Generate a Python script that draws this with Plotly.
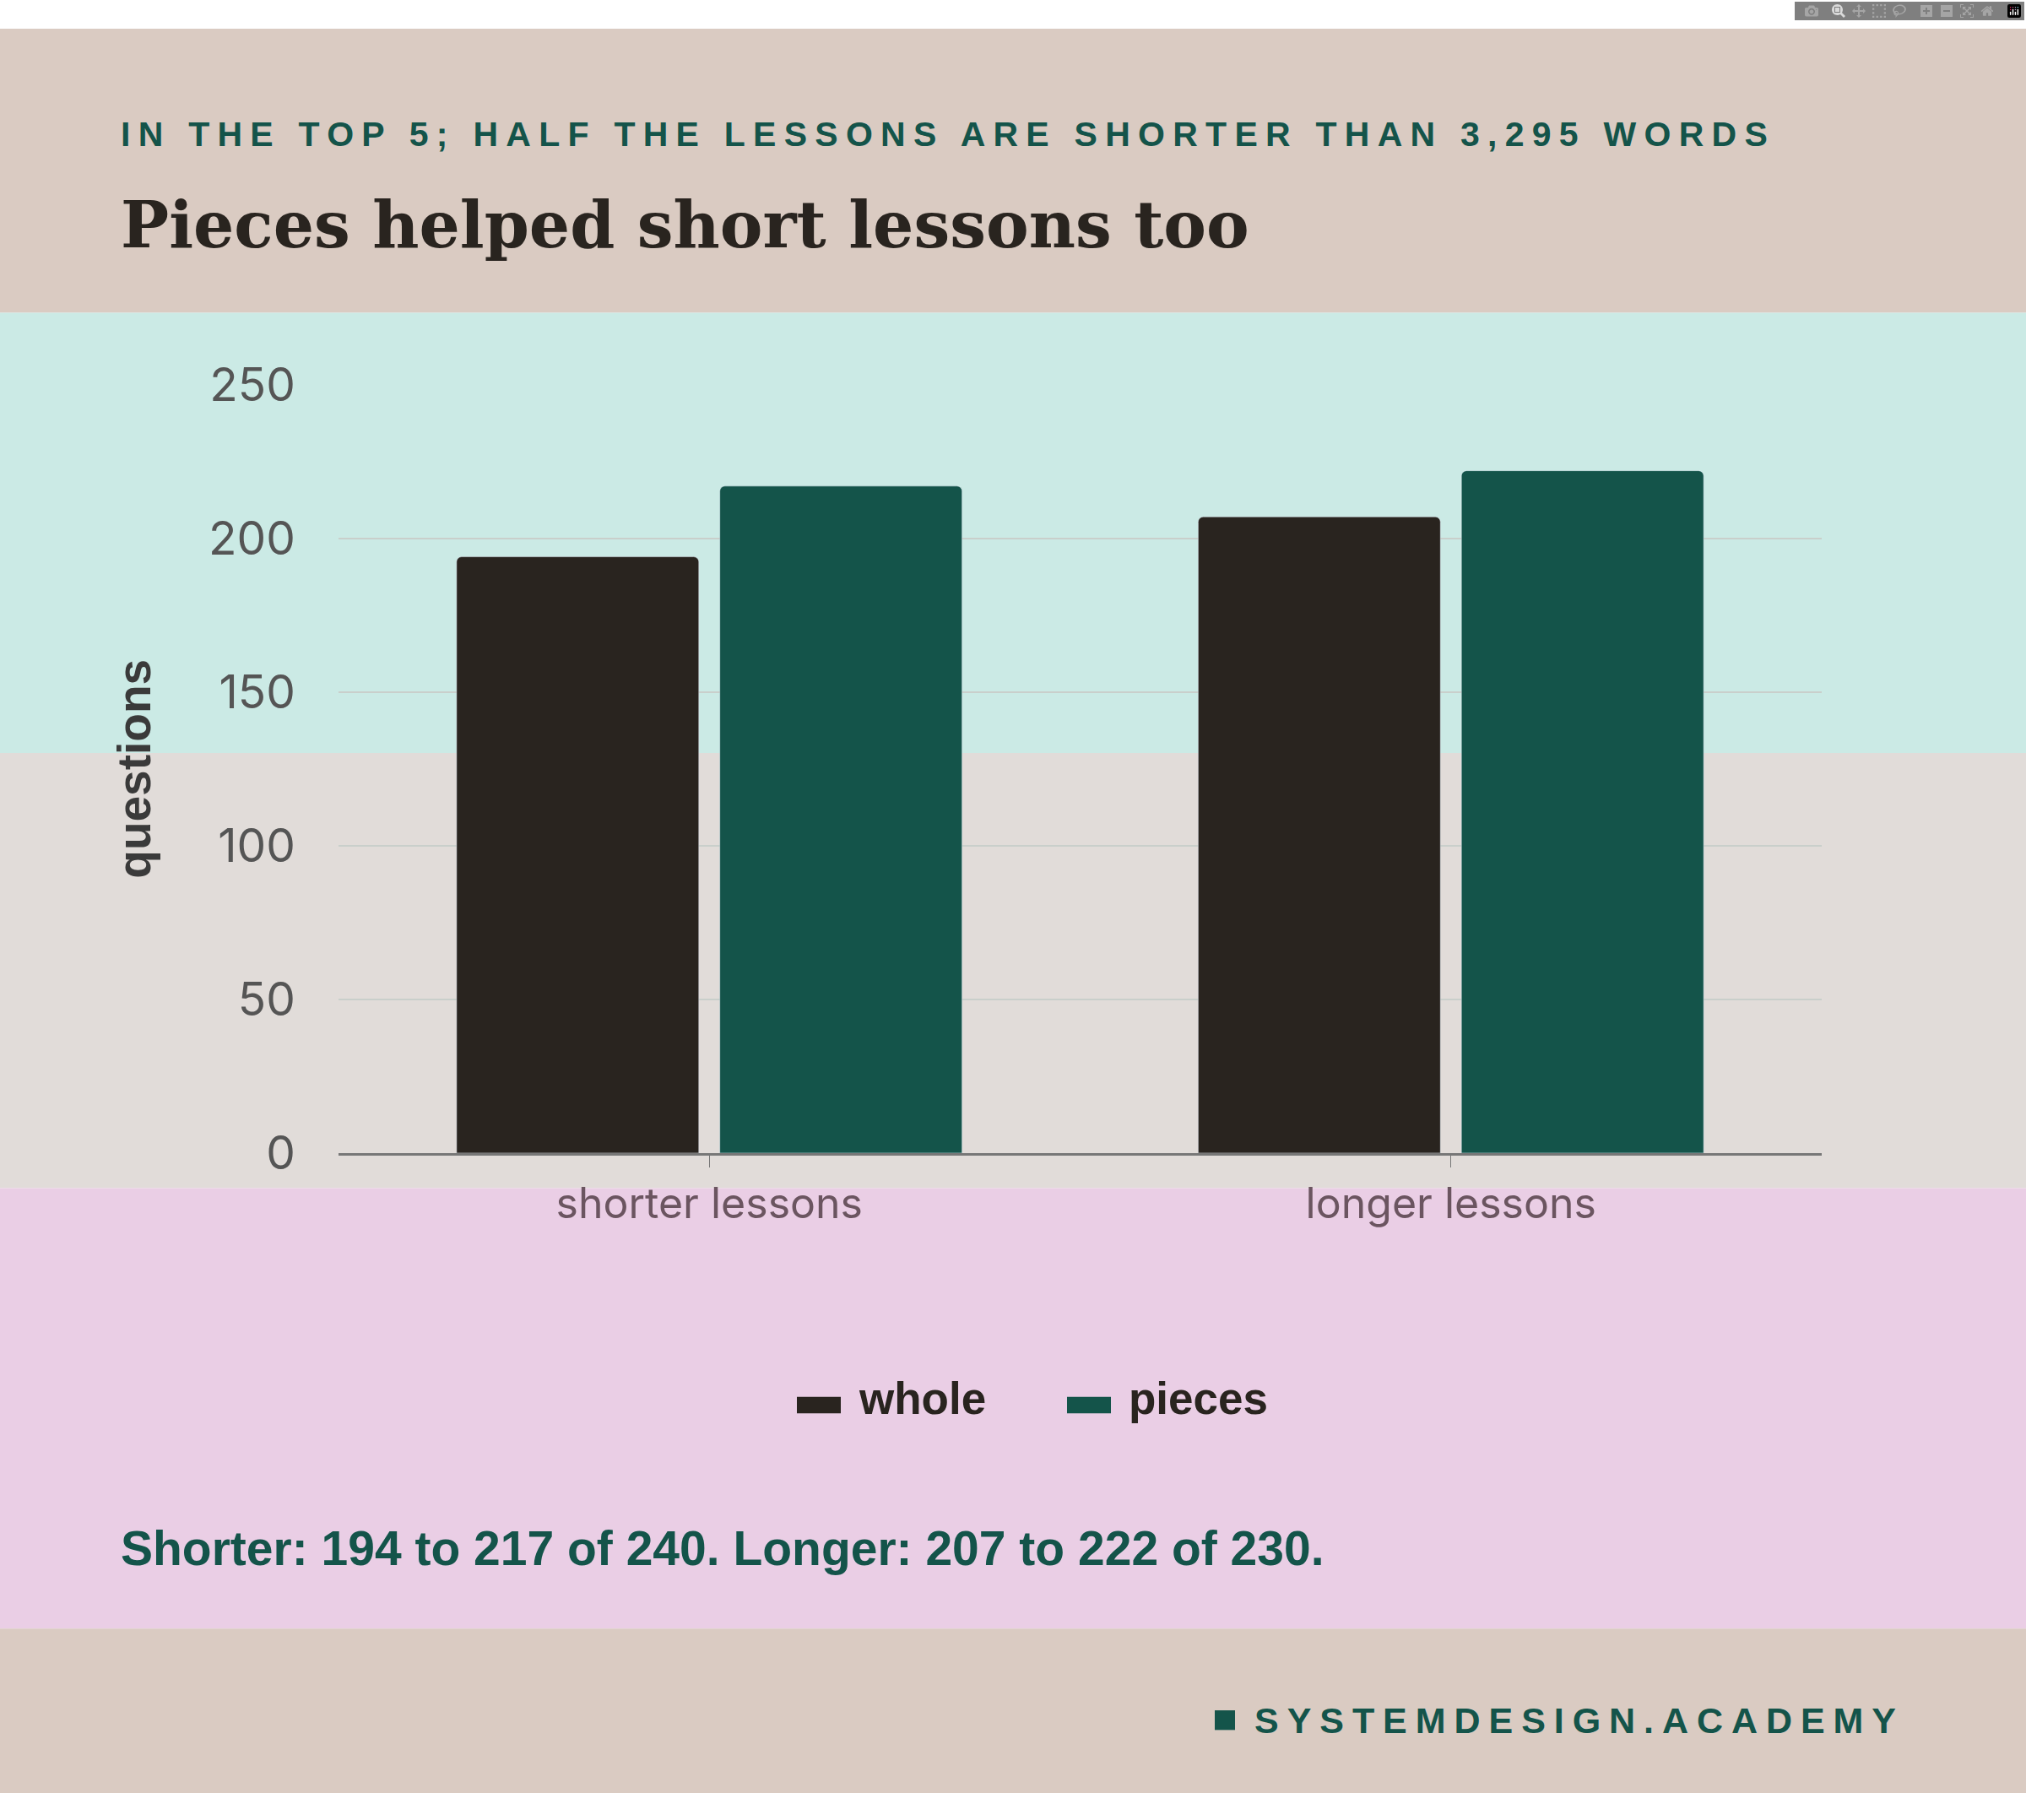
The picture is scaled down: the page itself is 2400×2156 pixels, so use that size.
import plotly.graph_objects as go

# chart data
categories = ["shorter lessons", "longer lessons"]
whole = [194, 207]
pieces = [217, 222]
series_names = ["whole", "pieces"]

W, H = 2400, 2156
dark = "#29241F"
green = "#14544A"

fig = go.Figure()
fig.add_bar(x=categories, y=whole, name=series_names[0], marker=dict(color=dark, cornerradius=6))
fig.add_bar(x=categories, y=pieces, name=series_names[1], marker=dict(color=green, cornerradius=6))

#background bands (pixel rows converted to paper coords)
def py(px):
    return 1 - px / H

bands = [(0, 347, "#DACBC2"), (347, 885, "#CBEAE5"), (885, 1417, "#E1DCD9"),
         (1417, 1955, "#EACEE5"), (1955, H, "#DACBC2")]
for top, bot, col in bands:
    fig.add_shape(type="rect", xref="paper", yref="paper", x0=0, x1=1, y0=py(bot), y1=py(top),
                  fillcolor=col, line_width=0, layer="below")

#custom legend (swatch + label)
legend_items = [(944, 1015, dark, series_names[0]), (1264, 1335, green, series_names[1])]
for sx, tx, col, name in legend_items:
    fig.add_shape(type="rect", xref="paper", yref="paper", x0=sx / W, x1=(sx + 52) / W,
                  y0=py(1692), y1=py(1672), fillcolor=col, line_width=0)
    fig.add_annotation(text=name, x=tx / W, y=py(1674), xref="paper", yref="paper",
                       xanchor="left", yanchor="middle", showarrow=False,
                       font=dict(family="Liberation Sans", size=53, color=dark, weight="bold"))

#brand square
fig.add_shape(type="rect", xref="paper", yref="paper", x0=1439 / W, x1=1463 / W,
              y0=py(2079), y1=py(2055), fillcolor=green, line_width=0)

fig.add_annotation(text="IN THE TOP 5; HALF THE LESSONS ARE SHORTER THAN 3,295 WORDS",
                   x=141 / W, y=py(129), xref="paper", yref="paper", xanchor="left", yanchor="middle",
                   showarrow=False, font=dict(family="Liberation Sans", size=41, color=green, weight="bold"))
fig.add_annotation(text="Pieces helped short lessons too",
                   x=141 / W, y=py(240), xref="paper", yref="paper", xanchor="left", yanchor="middle",
                   showarrow=False, font=dict(family="DejaVu Serif", size=76, color=dark, weight="bold"))
fig.add_annotation(text="Shorter: 194 to 217 of 240. Longer: 207 to 222 of 230.",
                   x=141 / W, y=py(1857), xref="paper", yref="paper", xanchor="left", yanchor="middle",
                   showarrow=False, font=dict(family="Liberation Sans", size=57, color=green, weight="bold"))
fig.add_annotation(text="SYSTEMDESIGN.ACADEMY",
                   x=1484 / W, y=py(2067), xref="paper", yref="paper", xanchor="left", yanchor="middle",
                   showarrow=False, font=dict(family="Liberation Sans", size=43, color=green, weight="bold"))

fig.update_layout(
    width=W, height=H, margin=dict(l=0, r=0, t=0, b=0),
    paper_bgcolor="rgba(0,0,0,0)", plot_bgcolor="rgba(0,0,0,0)",
    barmode="group", bargap=0.29, bargroupgap=0.08, showlegend=False,
    font=dict(family="Inter", color="#555555"),
    xaxis=dict(domain=[401 / W, 2158 / W], showgrid=False, ticks="outside", ticklen=14,
               tickcolor="#777", tickfont=dict(size=50, color="#6B5560"),
               showline=True, linecolor="#777", linewidth=3),
    yaxis=dict(domain=[py(1374), py(435)], range=[0, 250], dtick=50,
               gridcolor="#C9CFCB", gridwidth=1.5, zeroline=False,
               tickfont=dict(size=55, color="#555555"), ticklabelstandoff=50,
               title=dict(text="questions", standoff=50,
                          font=dict(family="Liberation Sans", size=55, color="#3A3A3A", weight="bold"))),
)

#letter-spaced caps: stretch to the reference width, keep left edge fixed
post = """
document.body.style.margin = '0';
var targets = {'IN THE TOP': 1960, 'SYSTEMDESIGN': 770};
document.querySelectorAll('.annotation-text').forEach(function(t){
  var s = t.textContent;
  Object.keys(targets).forEach(function(k){
    if (s.indexOf(k) === 0) {
      var w0 = t.getComputedTextLength();
      var sp = (targets[k] - w0) / s.length;
      t.style.letterSpacing = sp + 'px';
      var w1 = t.getComputedTextLength();
      t.setAttribute('transform', 'translate(' + ((w1 - w0) / 2) + ',0)');
    }
  });
});
"""
fig.write_html("out.html", post_script=post)
